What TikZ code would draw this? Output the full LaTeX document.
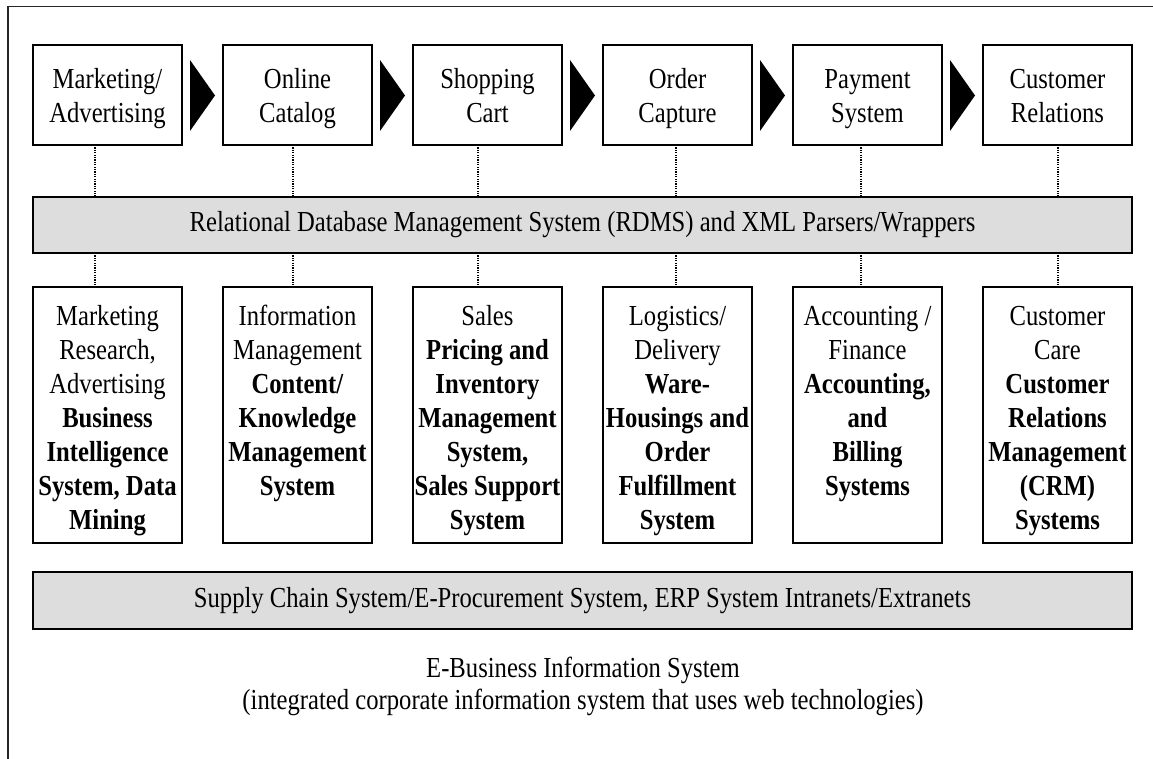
\documentclass[tikz,border=0pt]{standalone}
\usepackage{fontspec}
\setmainfont{Liberation Serif}[FakeStretch=0.85]
\usetikzlibrary{calc}
\definecolor{bandgray}{RGB}{221,221,221}
\newcommand\diagfont{\fontsize{29}{34}\selectfont}
\newcommand\capfont{\fontsize{29}{32}\selectfont}
\begin{document}
\begin{tikzpicture}[x=1pt,y=-1pt,
  every node/.style={inner sep=0pt, outer sep=0pt},
  frameline/.style={line width=1.5pt, black!85},
  topbox/.style={draw, line width=1.8pt, minimum width=149pt, minimum height=100pt},
  lowbox/.style={draw, line width=1.8pt, minimum width=149pt, minimum height=256pt},
  band/.style={draw, line width=1.8pt, fill=bandgray, minimum width=1099pt, minimum height=56pt, font=\diagfont},
  txt/.style={align=center, font=\diagfont},
  flowarrow/.style={fill=black},
  link/.style={line width=1.2pt, dash pattern=on 1.2pt off 1.2pt}
]
\useasboundingbox (0,0) rectangle (1153,759);

% outer frame (left and top edges)
\draw[frameline] (8,759) -- (8,6.5) -- (1153,6.5);

% process steps
\node[topbox] (t1) at (107.5,95) {};
\node[topbox] (t2) at (297.5,95) {};
\node[topbox] (t3) at (487.5,95) {};
\node[topbox] (t4) at (677.5,95) {};
\node[topbox] (t5) at (867.5,95) {};
\node[topbox] (t6) at (1057.5,95) {};
\node[txt] (t1l) at ([yshift=-4pt]t1.center) {\strut Marketing/\\\strut Advertising};
\node[txt] (t2l) at ([yshift=-4pt]t2.center) {\strut Online\\\strut Catalog};
\node[txt] (t3l) at ([yshift=-4pt]t3.center) {\strut Shopping\\\strut Cart};
\node[txt] (t4l) at ([yshift=-4pt]t4.center) {\strut Order\\\strut Capture};
\node[txt] (t5l) at ([yshift=-4pt]t5.center) {\strut Payment\\\strut System};
\node[txt] (t6l) at ([yshift=-4pt]t6.center) {\strut Customer\\\strut Relations};

% chevrons between steps
\foreach \a in {1,...,5}{
  \fill[flowarrow] ($(t\a.east)+(8,-35)$) -- ($(t\a.east)+(33,0.5)$) -- ($(t\a.east)+(8,36)$) -- cycle;
}

% horizontal layers
\node[band] (db) at (582.5,225) {Relational Database Management System (RDMS) and XML Parsers/Wrappers};
\node[band, minimum height=57pt] (sc) at (582.5,600.5) {Supply Chain System/E-Procurement System, ERP System Intranets/Extranets};

% supporting systems
\node[lowbox] (b1) at (107.5,415) {};
\node[lowbox] (b2) at (297.5,415) {};
\node[lowbox] (b3) at (487.5,415) {};
\node[lowbox] (b4) at (677.5,415) {};
\node[lowbox] (b5) at (867.5,415) {};
\node[lowbox] (b6) at (1057.5,415) {};
\node[txt, anchor=north] (b1l) at (107.5,301.2) {\strut Marketing\\Research,\\Advertising\\\textbf{Business}\\\textbf{Intelligence}\\\textbf{System, Data}\\\textbf{Mining}};
\node[txt, anchor=north] (b2l) at (297.5,301.2) {\strut Information\\Management\\\textbf{Content/}\\\textbf{Knowledge}\\\textbf{Management}\\\textbf{System}};
\node[txt, anchor=north] (b3l) at (487.5,301.2) {\strut Sales\\\textbf{Pricing and}\\\textbf{Inventory}\\\textbf{Management}\\\textbf{System,}\\\textbf{Sales Support}\\\textbf{System}};
\node[txt, anchor=north] (b4l) at (677.5,301.2) {\strut Logistics/\\Delivery\\\textbf{Ware-}\\\textbf{Housings and}\\\textbf{Order}\\\textbf{Fulfillment}\\\textbf{System}};
\node[txt, anchor=north] (b5l) at (867.5,301.2) {\strut Accounting /\\Finance\\\textbf{Accounting,}\\\textbf{and}\\\textbf{Billing}\\\textbf{Systems}};
\node[txt, anchor=north] (b6l) at (1057.5,301.2) {\strut Customer\\Care\\\textbf{Customer}\\\textbf{Relations}\\\textbf{Management}\\\textbf{(CRM)}\\\textbf{Systems}};

% dotted links through the database layer
\coordinate (d1) at (95,0);
\coordinate (d2) at (293,0);
\coordinate (d3) at (478,0);
\coordinate (d4) at (676,0);
\coordinate (d5) at (861,0);
\coordinate (d6) at (1058,0);
\foreach \i in {1,...,6}{
  \draw[link] (t\i.south -| d\i) -- (db.north -| d\i);
  \draw[link] (db.south -| d\i) -- (b\i.north -| d\i);
}

% caption
\node[txt, font=\capfont, anchor=north] (cap) at (583,654.6) {\strut E-Business Information System\\(integrated corporate information system that uses web technologies)};
\end{tikzpicture}
\end{document}
